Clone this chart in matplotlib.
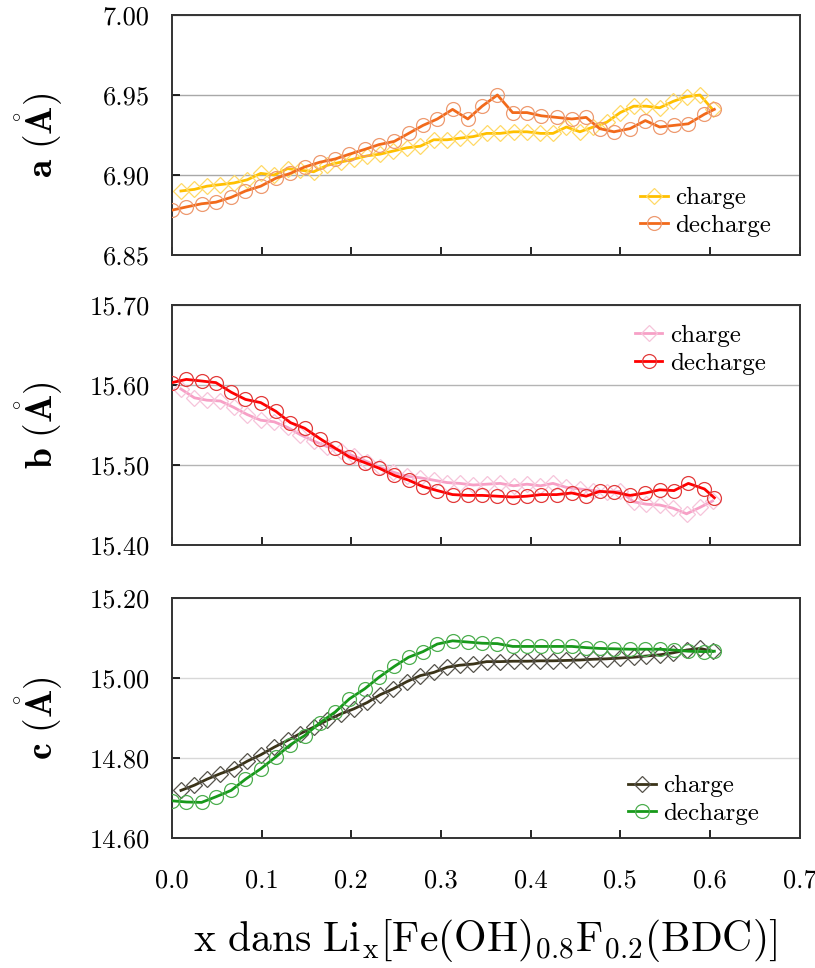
import matplotlib
matplotlib.use("Agg")
import matplotlib.pyplot as plt
from matplotlib.ticker import FormatStrFormatter, MultipleLocator

plt.rcParams["font.family"] = ["cmr10", "DejaVu Serif"]
plt.rcParams["mathtext.fontset"] = "cm"
plt.rcParams["axes.formatter.use_mathtext"] = True

# x positions of the measurements
x_charge = [0.010, 0.025, 0.039, 0.054, 0.069, 0.084, 0.099, 0.114, 0.129, 0.143,
            0.158, 0.173, 0.188, 0.203, 0.218, 0.232, 0.247, 0.262, 0.277, 0.292,
            0.307, 0.321, 0.336, 0.351, 0.366, 0.381, 0.396, 0.411, 0.425, 0.440,
            0.455, 0.470, 0.485, 0.500, 0.515, 0.529, 0.544, 0.559, 0.574, 0.589,
            0.603]
x_decharge = [0.000, 0.016, 0.033, 0.049, 0.066, 0.082, 0.099, 0.116, 0.132, 0.148,
              0.165, 0.182, 0.198, 0.215, 0.231, 0.248, 0.264, 0.280, 0.296, 0.313,
              0.330, 0.346, 0.363, 0.380, 0.396, 0.412, 0.429, 0.446, 0.462, 0.477,
              0.493, 0.511, 0.528, 0.544, 0.560, 0.576, 0.594, 0.605]

# parametre a
a_charge = [6.890, 6.891, 6.893, 6.894, 6.895, 6.897, 6.901, 6.900, 6.904, 6.903,
            6.902, 6.906, 6.908, 6.910, 6.912, 6.913, 6.915, 6.917, 6.918, 6.922,
            6.922, 6.923, 6.924, 6.926, 6.926, 6.927, 6.927, 6.926, 6.926, 6.930,
            6.927, 6.930, 6.933, 6.939, 6.943, 6.943, 6.942, 6.946, 6.949, 6.950,
            6.941]
a_decharge = [6.878, 6.880, 6.882, 6.883, 6.886, 6.890, 6.893, 6.898, 6.901, 6.905,
              6.908, 6.910, 6.913, 6.916, 6.919, 6.921, 6.926, 6.931, 6.935, 6.941,
              6.935, 6.943, 6.950, 6.939, 6.939, 6.937, 6.936, 6.935, 6.936, 6.929,
              6.927, 6.929, 6.934, 6.930, 6.931, 6.932, 6.938, 6.941]

# parametre b
b_charge = [15.595, 15.584, 15.581, 15.580, 15.572, 15.563, 15.556, 15.554, 15.547, 15.538,
            15.530, 15.523, 15.518, 15.511, 15.504, 15.497, 15.491, 15.486, 15.484, 15.481,
            15.478, 15.477, 15.475, 15.476, 15.477, 15.474, 15.476, 15.474, 15.477, 15.472,
            15.470, 15.468, 15.466, 15.467, 15.454, 15.451, 15.450, 15.446, 15.439, 15.447,
            15.455]
b_decharge = [15.603, 15.607, 15.605, 15.603, 15.591, 15.582, 15.578, 15.567, 15.553, 15.546,
              15.533, 15.521, 15.510, 15.503, 15.496, 15.487, 15.481, 15.473, 15.468, 15.463,
              15.462, 15.462, 15.461, 15.460, 15.461, 15.463, 15.463, 15.465, 15.461, 15.467,
              15.466, 15.462, 15.465, 15.469, 15.468, 15.477, 15.470, 15.459]

# parametre c
c_charge = [14.719, 14.732, 14.747, 14.761, 14.773, 14.792, 14.808, 14.827, 14.844, 14.861,
            14.877, 14.894, 14.910, 14.923, 14.939, 14.958, 14.973, 14.991, 15.006, 15.014,
            15.027, 15.032, 15.035, 15.041, 15.041, 15.042, 15.042, 15.043, 15.043, 15.044,
            15.045, 15.047, 15.048, 15.050, 15.052, 15.055, 15.058, 15.063, 15.070, 15.074,
            15.067]
c_decharge = [14.693, 14.690, 14.689, 14.703, 14.719, 14.747, 14.773, 14.803, 14.833, 14.856,
              14.888, 14.915, 14.948, 14.973, 15.002, 15.029, 15.052, 15.066, 15.085, 15.093,
              15.090, 15.087, 15.086, 15.079, 15.079, 15.079, 15.079, 15.079, 15.076, 15.074,
              15.073, 15.072, 15.072, 15.072, 15.070, 15.067, 15.066, 15.067]

panels = [
    # ylabel, ylim, ystep, charge/decharge data, (line, marker) colours, legend placement, grid colour
    (r"$\mathbf{a\ (\mathring{A})}$", (6.85, 7.00), 0.05, a_charge, a_decharge,
     ("#FFC000", "#FFD966"), ("#F26A1B", "#EE9A70"), ("lower right", (0.955, 0.075)), "#A8A8A8"),
    (r"$\mathbf{b\ (\mathring{A})}$", (15.40, 15.70), 0.10, b_charge, b_decharge,
     ("#F7A0C6", "#F6C4DA"), ("#FF0000", "#E23A3A"), ("upper right", (0.946, 0.918)), "#B4B4B4"),
    (r"$\mathbf{c\ (\mathring{A})}$", (14.60, 15.20), 0.20, c_charge, c_decharge,
     ("#3A3318", "#56524A"), ("#17991A", "#4DAE4F"), ("lower right", (0.936, 0.055)), "#D8D8D8"),
]

fig = plt.figure(figsize=(8.15, 9.68), dpi=100)
bottoms = [0.7366, 0.4370, 0.1343]

for (ylab, ylim, ystep, ych, ydc, cch, cdc, leg, gcol), bot in zip(panels, bottoms):
    ax = fig.add_axes([0.211, bot, 0.770, 0.2479])
    ax.plot(x_charge, ych, color=cch[0], lw=2.0, marker="D", ms=8.5,
            mfc="none", mec=cch[1], mew=0.9, label="charge", zorder=3)
    ax.plot(x_decharge, ydc, color=cdc[0], lw=2.0, marker="o", ms=10,
            mfc="none", mec=cdc[1], mew=0.9, label="decharge", zorder=4)
    ax.set_xlim(0, 0.7)
    ax.set_ylim(*ylim)
    ax.xaxis.set_major_locator(MultipleLocator(0.1))
    ax.yaxis.set_major_locator(MultipleLocator(ystep))
    ax.yaxis.set_major_formatter(FormatStrFormatter("%.2f"))
    ax.xaxis.set_major_formatter(FormatStrFormatter("%.1f"))
    ax.grid(axis="y", color=gcol, lw=1.0, zorder=0)
    ax.tick_params(axis="y", direction="in", length=6, width=1.2, labelsize=19, pad=16,
                   right=False)
    ax.tick_params(axis="x", direction="in", length=6, width=1.2, labelsize=19, pad=22,
                   top=False)
    if bot != bottoms[-1]:
        ax.tick_params(axis="x", labelbottom=False)
    for sp in ax.spines.values():
        sp.set_color("#333333")
        sp.set_linewidth(1.4)
    ax.set_ylabel(ylab, fontsize=27)
    ax.yaxis.set_label_coords(-0.17, 0.5)
    ax.legend(loc=leg[0], bbox_to_anchor=leg[1], frameon=False, fontsize=18,
              handlelength=1.1, handletextpad=0.3, labelspacing=0.2, borderpad=0,
              borderaxespad=0)

fig.text(0.595, 0.028,
         r"$\mathrm{x\ dans\ Li_{x}[Fe(OH)_{0.8}F_{0.2}(BDC)]}$",
         ha="center", va="center", fontsize=30)

fig.savefig("out.png", dpi=100)
